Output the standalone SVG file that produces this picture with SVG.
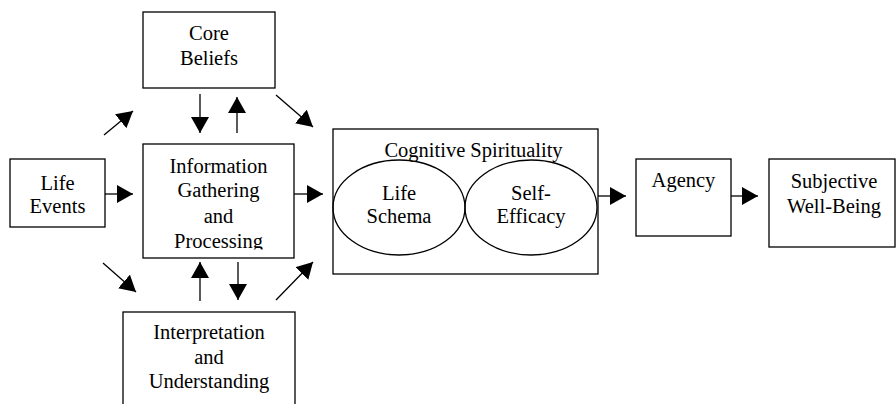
<svg xmlns="http://www.w3.org/2000/svg" width="896" height="404" viewBox="0 0 896 404">
<style>
.box{fill:#fff;stroke:#000;stroke-width:1.3}
.ell{fill:none;stroke:#000;stroke-width:1.3}
.t{font-family:'Liberation Serif','DejaVu Serif',serif;font-size:20.5px;fill:#000;text-anchor:middle}
.c line{stroke:#000;stroke-width:1.3;marker-end:url(#ah)}
</style>
<defs>
<marker id="ah" markerUnits="userSpaceOnUse" markerWidth="17" markerHeight="19" refX="16" refY="9" orient="auto">
<path d="M0,0 L16,9 L0,18 Z" fill="#000"/>
</marker>
<clipPath id="clipInfo"><rect x="143" y="144" width="151" height="105.5"/></clipPath>
</defs>
<rect width="896" height="404" fill="#fff"/>
<g id="core-beliefs">
<rect class="box" x="143" y="12" width="132" height="76"/>
<text class="t" x="209" y="40">Core</text>
<text class="t" x="209" y="65">Beliefs</text>
</g>
<g id="life-events">
<rect class="box" x="10" y="159" width="95" height="68"/>
<text class="t" x="57.5" y="190">Life</text>
<text class="t" x="57.5" y="213">Events</text>
</g>
<g id="info-gathering">
<rect class="box" x="143" y="144" width="151" height="114"/>
<g clip-path="url(#clipInfo)">
<text class="t" x="218.5" y="173">Information</text>
<text class="t" x="218.5" y="197">Gathering</text>
<text class="t" x="218.5" y="223">and</text>
<text class="t" x="218.5" y="248">Processing</text>
</g>
</g>
<g id="interpretation">
<rect class="box" x="123" y="312" width="172" height="110"/>
<text class="t" x="209" y="339">Interpretation</text>
<text class="t" x="209" y="364">and</text>
<text class="t" x="209" y="388">Understanding</text>
</g>
<g id="cognitive-spirituality">
<rect class="box" x="333" y="129" width="265" height="145"/>
<text class="t" x="473.5" y="157">Cognitive Spirituality</text>
<g id="life-schema">
<ellipse class="ell" cx="399" cy="207.5" rx="66" ry="47.5"/>
<text class="t" x="399" y="200">Life</text>
<text class="t" x="399" y="223">Schema</text>
</g>
<g id="self-efficacy">
<ellipse class="ell" cx="531" cy="207.5" rx="66" ry="47.5"/>
<text class="t" x="531" y="200">Self-</text>
<text class="t" x="531" y="223">Efficacy</text>
</g>
</g>
<g id="agency">
<rect class="box" x="636" y="159" width="95" height="77"/>
<text class="t" x="683.5" y="187">Agency</text>
</g>
<g id="subjective-well-being">
<rect class="box" x="769" y="159" width="126" height="88"/>
<text class="t" x="834" y="188">Subjective</text>
<text class="t" x="834" y="213">Well-Being</text>
</g>
<g class="c" id="connectors">
<line x1="104" y1="135" x2="133" y2="111"/>
<line x1="200" y1="94" x2="200" y2="133"/>
<line x1="237" y1="133" x2="237" y2="97"/>
<line x1="276" y1="95" x2="313" y2="127"/>
<line x1="105" y1="194" x2="133" y2="194"/>
<line x1="294" y1="194" x2="323" y2="194"/>
<line x1="103" y1="263" x2="136" y2="292"/>
<line x1="200" y1="301" x2="200" y2="262"/>
<line x1="238" y1="262" x2="238" y2="300"/>
<line x1="276" y1="300" x2="313" y2="262"/>
<line x1="598" y1="196" x2="626" y2="196"/>
<line x1="731" y1="196" x2="758" y2="196"/>
</g>
</svg>
